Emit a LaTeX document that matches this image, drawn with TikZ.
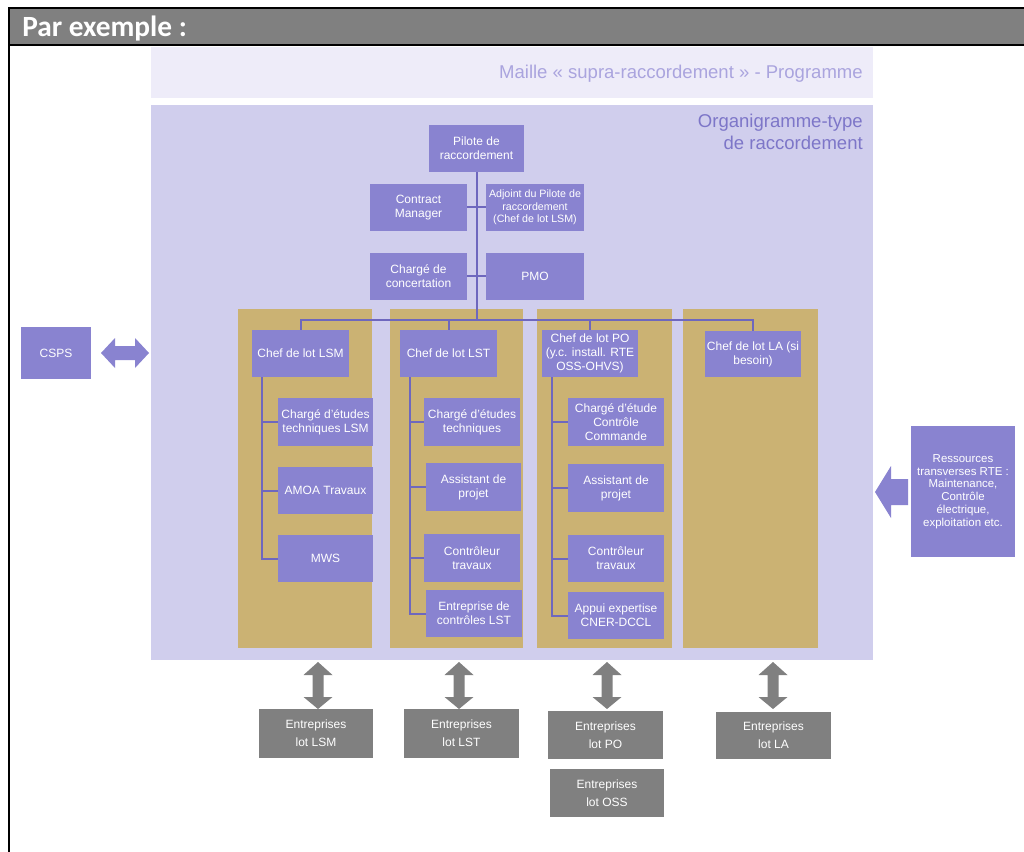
\documentclass[tikz,border=0pt]{standalone}
\usepackage{fontspec}
\setmainfont{Liberation Sans}
\newfontfamily\hdrfont{Carlito}
\definecolor{lav}{RGB}{208,206,237}
\definecolor{band}{RGB}{238,236,249}
\definecolor{mailletxt}{RGB}{170,164,222}
\definecolor{orgatxt}{RGB}{125,118,200}
\definecolor{boxp}{RGB}{137,131,208}
\definecolor{linep}{RGB}{110,103,190}
\definecolor{gold}{RGB}{203,178,115}
\definecolor{hgray}{RGB}{128,128,128}
\newcommand\bx[7]{\node[#7, minimum width={(#4-#2)*0.75pt}, minimum height={(#5-#3)*0.75pt}] (#1) at ({(#2+#4)/2},{(#3+#5)/2}) {#6};}
\newcommand\vdarrow[1]{\fill[hgray] (#1,662) -- ++(14.5,13) -- ++(-9,0) -- ++(0,22) -- ++(9,0) -- (#1,709) -- ++(-14.5,-12) -- ++(9,0) -- ++(0,-22) -- ++(-9,0) -- cycle;}
\begin{document}
\begin{tikzpicture}[x=0.75pt,y=-0.75pt,
  pbox/.style={fill=boxp, text=white, inner sep=0pt, align=center, font=\fontsize{9}{10.5}\selectfont},
  sbox/.style={fill=boxp, text=white, inner sep=0pt, align=center, font=\fontsize{8}{9.5}\selectfont},
  rbox/.style={fill=boxp, text=white, inner sep=0pt, align=center, font=\fontsize{8.6}{9.6}\selectfont},
  gbox/.style={fill=hgray, text=white, inner sep=0pt, align=center, font=\fontsize{9}{13.5}\selectfont},
  conn/.style={draw=linep, line width=1.5pt}]
\useasboundingbox (0,0) rectangle (1024,852);
\fill[white] (0,0) rectangle (1024,852);
% header
\fill[hgray] (8,8) rectangle (1024,45);
\draw[black,line width=1.5pt] (1024,8.5) -- (8.5,8.5) -- (8.5,852);
\draw[black,line width=1.5pt] (8.5,45.5) -- (1024,45.5);
\node[anchor=base west, font=\hdrfont\bfseries\fontsize{22}{24}\selectfont, text=white, inner sep=0pt] (hdr) at (22,36.5) {Par exemple :};
% backgrounds
\fill[band] (151,47) rectangle (873,98);
\node[anchor=base east, inner sep=0pt, text=mailletxt, font=\fontsize{13.9}{16}\selectfont] (maille) at (863,79) {Maille « supra-raccordement » - Programme};
\fill[lav] (151,105) rectangle (873,660);
\node[anchor=base east, inner sep=0pt, text=orgatxt, font=\fontsize{13.9}{16}\selectfont] (orga1) at (863,128) {Organigramme-type};
\node[anchor=base east, inner sep=0pt, text=orgatxt, font=\fontsize{13.9}{16}\selectfont] (orga2) at (863,150) {de raccordement};
\fill[gold] (238,309) rectangle (372,648);
\fill[gold] (390,309) rectangle (523,648);
\fill[gold] (537,309) rectangle (672,648);
\fill[gold] (683,309) rectangle (818,648);
% top boxes
\bx{pil}{429}{125}{524}{172}{Pilote de\\raccordement}{pbox}
\bx{cm}{370}{184}{467}{231}{Contract\\Manager}{pbox}
\bx{adj}{486}{184}{584}{231}{Adjoint du Pilote de\\raccordement\\(Chef de lot LSM)}{sbox}
\bx{cc}{370}{253}{467}{300}{Chargé de\\concertation}{pbox}
\bx{pmo}{486}{253}{584}{300}{PMO}{pbox}
% chefs
\bx{clsm}{252}{330}{349}{377}{Chef de lot LSM}{pbox}
\bx{clst}{400}{330}{497}{377}{Chef de lot LST}{pbox}
\bx{cpo}{542}{330}{638}{377}{Chef de lot PO\\(y.c. install. RTE\\OSS-OHVS)}{pbox}
\bx{cla}{705}{331}{801}{377}{Chef de lot LA (si\\besoin)}{pbox}
% col1
\bx{et1}{278}{398}{373}{446}{Chargé d’études\\techniques LSM}{pbox}
\bx{amoa}{278}{467}{373}{514}{AMOA Travaux}{pbox}
\bx{mws}{278}{535}{373}{582}{MWS}{pbox}
% col2
\bx{et2}{424}{398}{520}{446}{Chargé d’études\\techniques}{pbox}
\bx{ap2}{426}{463}{521}{511}{Assistant de\\projet}{pbox}
\bx{ct2}{424}{534}{520}{582}{Contrôleur\\travaux}{pbox}
\bx{ec2}{426}{590}{522}{637}{Entreprise de\\contrôles LST}{pbox}
% col3
\bx{ec3}{568}{398}{664}{446}{Chargé d’étude\\Contrôle\\Commande}{pbox}
\bx{ap3}{568}{464}{664}{512}{Assistant de\\projet}{pbox}
\bx{ct3}{568}{535}{664}{582}{Contrôleur\\travaux}{pbox}
\bx{ax3}{568}{592}{664}{639}{Appui expertise\\CNER-DCCL}{pbox}
% side
\bx{csps}{21}{327}{91}{379}{CSPS}{pbox}
\bx{res}{911}{426}{1015}{557}{Ressources\\transverses RTE :\\Maintenance,\\Contrôle\\électrique,\\exploitation etc.}{rbox}
% bottom
\bx{elsm}{259}{709}{373}{758}{Entreprises\\lot LSM}{gbox}
\bx{elst}{404}{709}{519}{758}{Entreprises\\lot LST}{gbox}
\bx{epo}{548}{711}{663}{759}{Entreprises\\lot PO}{gbox}
\bx{eoss}{550}{769}{664}{817}{Entreprises\\lot OSS}{gbox}
\bx{ela}{716}{712}{831}{759}{Entreprises\\lot LA}{gbox}
% connectors
\coordinate (busy) at (0,319.5);
\draw[conn] (pil.south) -- (pil.south |- busy);
\draw[conn] (cm.east) -- (adj.west);
\draw[conn] (cc.east) -- (pmo.west);
\draw[conn] (clsm.north) -- (clsm.north |- busy) -- (cla.north |- busy) -- (cla.north);
\draw[conn] (clst.north) -- (clst.north |- busy);
\draw[conn] (cpo.north) -- (cpo.north |- busy);
\coordinate (s1) at (262,377);
\coordinate (s2) at (410,377);
\coordinate (s3) at (552,377);
\draw[conn] (s1) |- (mws.west);
\draw[conn] (s1 |- et1.west) -- (et1.west);
\draw[conn] (s1 |- amoa.west) -- (amoa.west);
\draw[conn] (s2) |- (ec2.west);
\draw[conn] (s2 |- et2.west) -- (et2.west);
\draw[conn] (s2 |- ap2.west) -- (ap2.west);
\draw[conn] (s2 |- ct2.west) -- (ct2.west);
\draw[conn] (s3) |- (ax3.west);
\draw[conn] (s3 |- ec3.west) -- (ec3.west);
\draw[conn] (s3 |- ap3.west) -- (ap3.west);
\draw[conn] (s3 |- ct3.west) -- (ct3.west);
% block arrows
\fill[boxp] (101,353) -- (115,338) -- (115,346) -- (135,346) -- (135,338) -- (149,353) -- (135,368) -- (135,360) -- (115,360) -- (115,368) -- cycle;
\fill[boxp] (875,492) -- (891,466) -- (891,479) -- (908,479) -- (908,505) -- (891,505) -- (891,518) -- cycle;
\vdarrow{318}
\vdarrow{459}
\vdarrow{607}
\vdarrow{773}
\end{tikzpicture}
\end{document}
